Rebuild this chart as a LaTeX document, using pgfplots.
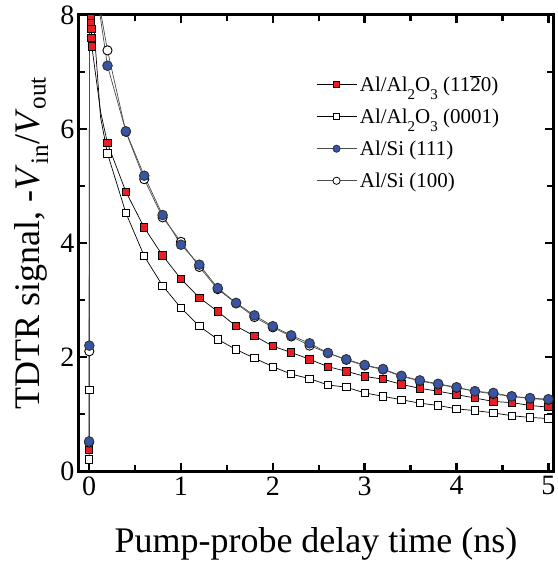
\documentclass[border=0pt]{standalone}
\usepackage{fontspec}
\setmainfont{Liberation Serif}
\usepackage{pgfplots}
\usepackage{pgfplotstable}
\pgfplotsset{compat=1.18}
\usetikzlibrary{calc}

\definecolor{sqred}{RGB}{232,30,36}
\definecolor{cblue}{RGB}{56,84,164}
\newcommand\lsub[1]{\raisebox{-0.38em}{\fontsize{15}{15}\selectfont #1}}

% Al/Al2O3 (11-20); rows 1 and 7 carry no marker
\pgfplotstableread{
t y
0     0.37
0.004 8.8
0.020 7.95
0.022 7.85
0.024 7.75
0.027 7.60
0.030 7.45
0.125 6.30
0.2 5.75
0.4 4.90
0.6 4.27
0.8 3.78
1.0 3.37
1.2 3.04
1.4 2.80
1.6 2.54
1.8 2.37
2.0 2.19
2.2 2.08
2.4 1.96
2.6 1.83
2.8 1.75
3.0 1.66
3.2 1.61
3.4 1.52
3.6 1.45
3.8 1.40
4.0 1.34
4.2 1.28
4.4 1.22
4.6 1.20
4.8 1.15
5.0 1.12
}\redsq

% Al/Al2O3 (0001); rows 2 and 3 carry no marker
\pgfplotstableread{
t y
0     0.20
0.002 1.42
0.006 8.8
0.125 6.20
0.2 5.57
0.4 4.53
0.6 3.77
0.8 3.25
1.0 2.86
1.2 2.54
1.4 2.31
1.6 2.13
1.8 1.98
2.0 1.83
2.2 1.70
2.4 1.62
2.6 1.51
2.8 1.47
3.0 1.37
3.2 1.31
3.4 1.25
3.6 1.19
3.8 1.15
4.0 1.09
4.2 1.06
4.4 1.02
4.6 0.97
4.8 0.94
5.0 0.92
}\whitesq

% Al/Si (111)
\pgfplotstableread{
t y
0     0.52
0.002 2.20
0.006 9.5
0.110 8.10
0.2 7.11
0.4 5.96
0.6 5.18
0.8 4.49
1.0 3.97
1.2 3.62
1.4 3.21
1.6 2.95
1.8 2.73
2.0 2.54
2.2 2.38
2.4 2.24
2.6 2.07
2.8 1.96
3.0 1.86
3.2 1.79
3.4 1.67
3.6 1.59
3.8 1.53
4.0 1.47
4.2 1.40
4.4 1.37
4.6 1.31
4.8 1.28
5.0 1.26
}\bluec

% Al/Si (100)
\pgfplotstableread{
t y
0     0.50
0.002 2.10
0.006 9.5
0.120 8.10
0.2 7.38
0.4 5.95
0.6 5.12
0.8 4.45
1.0 4.02
1.2 3.58
1.4 3.19
1.6 2.94
1.8 2.70
2.0 2.52
2.2 2.36
2.4 2.20
2.6 2.07
2.8 1.95
3.0 1.85
3.2 1.78
3.4 1.66
3.6 1.58
3.8 1.52
4.0 1.46
4.2 1.40
4.4 1.35
4.6 1.31
4.8 1.27
5.0 1.25
}\whitec

\begin{document}
\begin{tikzpicture}
\begin{axis}[
    name=ax,
    scale only axis,
    width=474pt, height=456pt,
    xmin=-0.11, xmax=5.05,
    ymin=0, ymax=8,
    xtick={0,1,2,3,4,5},
    ytick={0,2,4,6,8},
    minor xtick={0.5,1.5,2.5,3.5,4.5},
    minor ytick={1,3,5,7},
    tick align=inside,
    major tick length=8pt,
    minor tick length=6pt,
    every tick/.style={line width=2.4pt, black},
    axis line style={line width=3pt},
    /pgf/number format/assume math mode=true,
    tick label style={font=\fontsize{28}{30}\selectfont},
    xticklabel style={yshift=-2pt},
    yticklabel style={xshift=-1pt},
    xlabel={Pump-probe delay time (ns)},
    ylabel={TDTR signal, -\textit{V}\textsubscript{in}/\textit{V}\textsubscript{out}},
    label style={font=\fontsize{36}{40}\selectfont},
    xlabel style={at={([yshift=-81pt]axis description cs:0.5,0)}, anchor=base},
    ylabel style={at={([xshift=-39pt]axis description cs:0,0.5)}, anchor=base},
    legend style={draw=none, fill=none, at={(axis description cs:0.50,0.875)},
        anchor=north west, inner sep=0pt, row sep=10pt,
        font=\fontsize{21}{24}\selectfont,
        nodes={inner sep=3pt}},
    legend cell align=left,
    legend image code/.code={\draw[#1, mark repeat=2, mark phase=2]
        plot coordinates {(0pt,0pt) (20pt,0pt) (40pt,0pt)};},
]
\addlegendimage{black, line width=0.7pt, mark=square*, mark size=3pt,
    mark options={fill=sqred, draw=black, line width=0.8pt}}
\addlegendentry{Al/Al\lsub{2}O\lsub{3} (11$\overline{\mbox{2}}$0)}
\addlegendimage{black, line width=0.7pt, mark=square*, mark size=3pt,
    mark options={fill=white, draw=black, line width=0.8pt}}
\addlegendentry{Al/Al\lsub{2}O\lsub{3} (0001)}
\addlegendimage{black!70, line width=0.7pt, mark=*, mark size=3.6pt,
    mark options={fill=cblue, draw=black!80, line width=0.8pt}}
\addlegendentry{Al/Si (111)}
\addlegendimage{black!70, line width=0.7pt, mark=*, mark size=3.6pt,
    mark options={fill=white, draw=black, line width=0.8pt}}
\addlegendentry{Al/Si (100)}

% frame ticks, drawn explicitly so they sit above everything
\pgfplotsinvokeforeach{0,1,2,3,4,5}{
  \draw[line width=2.4pt] (axis cs:#1,0) -- ++(0pt,8pt);
  \draw[line width=2.4pt] (axis cs:#1,8) -- ++(0pt,-8pt);}
\pgfplotsinvokeforeach{0.5,1.5,2.5,3.5,4.5}{
  \draw[line width=2.4pt] (axis cs:#1,0) -- ++(0pt,6pt);
  \draw[line width=2.4pt] (axis cs:#1,8) -- ++(0pt,-6pt);}
\pgfplotsinvokeforeach{2,4,6}{
  \draw[line width=2.4pt] (axis cs:-0.11,#1) -- ++(8pt,0pt);
  \draw[line width=2.4pt] (axis cs:5.05,#1) -- ++(-8pt,0pt);}
\pgfplotsinvokeforeach{1,3,5,7}{
  \draw[line width=2.4pt] (axis cs:-0.11,#1) -- ++(6pt,0pt);
  \draw[line width=2.4pt] (axis cs:5.05,#1) -- ++(-6pt,0pt);}

% lines
\addplot[forget plot, black, line width=0.7pt, no marks] table[x=t, y=y] {\whitesq};
\addplot[forget plot, black, line width=0.7pt, no marks] table[x=t, y=y] {\redsq};
\addplot[forget plot, black!70, line width=0.7pt, no marks] table[x=t, y=y] {\whitec};
\addplot[forget plot, black!70, line width=0.7pt, no marks] table[x=t, y=y] {\bluec};

% markers
\addplot[forget plot, only marks, mark=square*, mark size=3.7pt,
    mark options={fill=white, draw=black, line width=0.9pt},
    skip coords between index={2}{4}] table[x=t, y=y] {\whitesq};
\addplot[forget plot, only marks, mark=square*, mark size=3.7pt,
    mark options={fill=sqred, draw=black, line width=0.9pt},
    skip coords between index={1}{2},
    skip coords between index={7}{8}] table[x=t, y=y] {\redsq};
\addplot[forget plot, only marks, mark=*, mark size=4.6pt,
    mark options={fill=white, draw=black, line width=0.9pt},
    skip coords between index={2}{4}] table[x=t, y=y] {\whitec};
\addplot[forget plot, only marks, mark=*, mark size=4.8pt,
    mark options={fill=cblue, draw=black!80, line width=0.9pt},
    skip coords between index={2}{4}] table[x=t, y=y] {\bluec};
\end{axis}
\pgfresetboundingbox
\path ([shift={(-79pt,-93pt)}]ax.south west) rectangle ([shift={(4pt,15pt)}]ax.north east);
\end{tikzpicture}
\end{document}
